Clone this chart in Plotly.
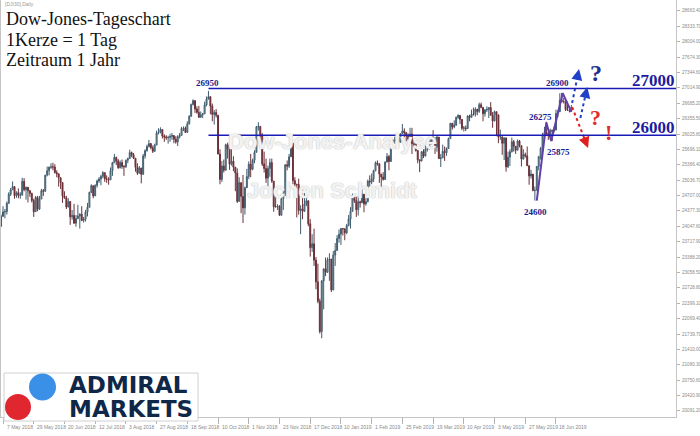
import plotly.graph_objects as go
import pandas as pd

# ---------------- data ----------------
excluded_days = ['2018-12-25', '2019-01-01', '2019-04-19']
dates = [d.strftime('%Y-%m-%d') for d in pd.bdate_range('2018-05-04', '2019-06-28')
         if d.strftime('%Y-%m-%d') not in excluded_days]

opens = [
    # May 2018
    24050,24263,24357,24361,24543,24739,24831,24900,24706,24768,24714,24715,25013,24834,24886,24811,24753,24600,24362,24667,
    # Jun 2018
    24416,24635,24813,24799,25146,25241,25317,25322,25320,25201,25175,25090,24987,24700,24657,24461,24580,24252,24283,24117,24216,
    # Jul 2018
    24271,24307,24175,24200,24356,24456,24776,24919,24700,24924,25019,25064,25120,25199,25064,25058,25044,25241,25414,25527,25451,25306,
    # Aug 2018
    25415,25333,25326,25463,25502,25628,25583,25509,25313,25187,25299,25162,25558,25669,25758,25822,25733,25656,25790,26049,26064,26124,25986,
    # Sep 2018
    25964,25950,25952,25974,25995,25916,25857,25971,25998,26145,26154,26062,26246,26405,26657,26743,26562,26492,26385,26439,
    # Oct 2018
    26458,26651,26774,26828,26627,26447,26487,26430,25599,25053,25340,25250,25798,25706,25379,25444,25317,25191,24583,24985,24689,24443,24875,
    # Nov 2018
    25116,25381,25271,25462,25636,26181,26191,25989,25388,25287,25081,25289,25414,25018,24466,24465,24480,24286,24640,24748,25366,25339,
    # Dec 2018
    25538,25826,25027,24950,24947,24389,24423,24370,24527,24597,24101,23592,23675,23324,22859,22445,21792,22878,23138,23062,
    # Jan 2019
    23327,23346,22686,23433,23531,23787,23879,24001,23996,23910,24065,24207,24370,24706,24600,24404,24575,24553,24737,24528,24579,25014,
    # Feb 2019
    24999,25064,25239,25411,25390,25169,25106,25053,25425,25543,25439,25883,25880,25891,25954,25850,26031,26091,26057,25985,
    # Mar 2019
    25916,26026,25819,25806,25673,25473,25450,25650,25554,25702,25709,25849,25914,25887,25745,25962,25502,25516,25657,25626,25717,
    # Apr 2019
    25929,26258,26179,26218,26385,26425,26341,26150,26157,26143,26412,26384,26452,26450,26559,26511,26656,26597,26462,26543,26554,
    # May 2019
    26593,26430,26307,26505,26438,25965,25967,25828,25942,25324,25532,25648,25862,25764,25680,25877,25776,25490,25586,25560,25347,25127,25169,
    # Jun 2019
    24815,24820,25332,25540,25720,25984,26062,26049,26005,26107,26090,26112,26466,26504,26753,26720,26727,26548,26537,26526,
]
highs = [
    24300,24480,24420,24580,24780,24870,25010,24900,24800,24860,24780,25090,25080,24900,24890,24830,24770,24640,24700,24700,
    24700,24850,24850,25150,25330,25330,25400,25410,25380,25250,25175,25090,24987,24800,24700,24650,24580,24400,24530,24290,24510,
    24330,24480,24250,24400,24550,24790,24950,24919,24950,25050,25100,25150,25230,25199,25140,25100,25310,25430,25600,25540,25490,25460,
    25480,25360,25480,25520,25690,25650,25620,25509,25400,25340,25299,25600,25700,25800,25900,25830,25780,25820,26100,26150,26170,26124,26020,
    26000,25990,26030,26050,26000,25980,26000,26050,26180,26190,26190,26300,26430,26680,26770,26743,26620,26630,26510,26480,
    26720,26830,26951,26830,26680,26540,26560,26430,25700,25450,25480,25820,25840,25750,25700,25550,25317,25290,25100,24985,25150,24900,25280,
    25440,25600,25500,25680,26200,26280,26191,26050,25650,25500,25350,25500,25500,25018,24740,24520,24500,24680,24800,25380,25460,25600,
    25990,25830,25100,24950,25070,24500,24850,24800,24700,24597,24200,23880,24000,23390,23250,22500,22900,23140,23380,23380,
    23470,23350,23520,23690,23860,23980,24010,24010,23996,24100,24290,24460,24750,24720,24680,24700,24600,24850,24737,24650,25050,25140,
    25180,25260,25440,25460,25390,25170,25210,25440,25620,25580,25900,25920,25970,26000,25960,26040,26240,26150,26060,26040,
    26160,26160,25900,25830,25680,25480,25660,25700,25780,25780,25920,25950,26110,25960,26000,25962,25600,25800,25760,25740,25950,
    26260,26260,26320,26400,26450,26430,26341,26200,26210,26430,26440,26550,26590,26600,26560,26700,26700,26600,26560,26620,26600,
    26710,26500,26530,26505,26440,26120,25970,25960,25950,25650,25700,25950,25900,25770,25910,25900,25780,25700,25630,25760,25350,25260,25169,
    24900,25340,25560,25750,26050,26180,26290,26060,26140,26120,26180,26550,26540,26900,26910,26800,26760,26720,26620,26650,
]
lows = [
    24080,24250,24220,24300,24530,24700,24830,24640,24660,24650,24640,24715,24800,24620,24560,24680,24560,24250,24360,24370,
    24400,24630,24700,24790,25120,25140,25280,25250,25180,25100,24900,24850,24550,24640,24420,24460,24080,24190,24100,24040,24200,
    24000,24160,24130,24150,24260,24450,24760,24650,24700,24880,24980,24930,25080,25000,24980,24940,25040,25130,25400,25360,25280,25290,
    25280,25130,25300,25400,25500,25530,25490,25220,25150,25180,24970,25160,25500,25650,25740,25700,25620,25650,25790,26020,26040,25930,25860,
    25900,25820,25860,25900,25830,25820,25770,25930,25990,26090,26050,26050,26230,26400,26640,26480,26460,26370,26380,26370,
    26458,26620,26770,26450,26300,26230,26380,25590,24950,25000,25200,25250,25500,25260,25350,25230,24800,24550,24580,24330,24120,24300,24870,
    25060,25100,25250,25400,25630,26100,25850,25340,25200,24980,24900,25110,24980,24360,24460,24400,24270,24280,24400,24700,25250,25300,
    25538,24950,24850,24240,24300,23880,24200,24360,24480,24050,23400,23500,23200,22700,22400,21750,21650,22270,22980,23060,
    22880,22640,22680,23200,23530,23700,23650,23850,23750,23880,24050,24000,24360,24550,24250,24280,24450,24550,24350,24490,24560,24900,
    24950,25000,25230,25350,24980,24900,25030,25050,25420,25250,25430,25850,25820,25860,25760,25850,26030,25960,25870,25890,
    25910,25600,25750,25650,25400,25210,25440,25510,25550,25650,25700,25800,25850,25600,25650,25490,25320,25510,25450,25560,25710,
    25920,26120,26150,26200,26350,26240,26110,26080,26090,26140,26300,26380,26420,26400,26430,26480,26580,26300,26400,26500,26370,
    26420,26160,26300,25980,25830,25900,25580,25470,25220,25300,25340,25630,25650,25600,25680,25740,25330,25480,25520,25340,24940,25070,24800,
    24600,24820,25250,25480,25700,25980,26000,25900,26000,25875,26060,26110,26390,26500,26700,26680,26520,26520,26490,26500,
]
closes = [
    24263,24357,24361,24543,24739,24831,24900,24706,24768,24714,24715,25013,24834,24886,24811,24753,24600,24362,24667,24416,
    24635,24813,24799,25146,25241,25317,25322,25320,25201,25175,25090,24987,24700,24657,24461,24580,24252,24283,24117,24216,24271,
    24307,24175,24200,24356,24456,24776,24919,24700,24924,25019,25064,25120,25199,25064,25058,25044,25241,25414,25527,25451,25306,25415,
    25333,25326,25463,25502,25628,25583,25509,25313,25187,25299,25162,25558,25669,25758,25822,25733,25656,25790,26049,26064,26124,25986,25964,
    25950,25952,25974,25995,25916,25857,25971,25998,26145,26154,26062,26246,26405,26657,26743,26562,26492,26385,26439,26458,
    26651,26774,26828,26627,26447,26487,26430,25599,25053,25340,25250,25798,25706,25379,25444,25317,25191,24583,24985,24689,24443,24875,25116,
    25381,25271,25462,25636,26181,26191,25989,25388,25287,25081,25289,25414,25018,24466,24465,24480,24286,24640,24748,25366,25339,25538,
    25826,25027,24950,24947,24389,24423,24370,24527,24597,24101,23592,23675,23324,22859,22445,21792,22878,23138,23062,23327,
    23346,22686,23433,23531,23787,23879,24001,23996,23910,24065,24207,24370,24706,24600,24404,24575,24553,24737,24528,24579,25014,24999,
    25064,25239,25411,25390,25169,25106,25053,25425,25543,25439,25883,25880,25891,25954,25850,26031,26091,26057,25985,25916,
    26026,25819,25806,25673,25473,25450,25650,25554,25702,25709,25849,25914,25887,25745,25962,25502,25516,25657,25626,25717,25929,
    26258,26179,26218,26385,26425,26341,26150,26157,26143,26412,26384,26452,26450,26559,26511,26656,26597,26462,26543,26554,26593,
    26430,26307,26505,26438,25965,25967,25828,25942,25324,25532,25648,25862,25764,25680,25877,25776,25490,25586,25560,25347,25127,25169,24815,
    24820,25332,25540,25720,25984,26062,26049,26005,26107,26090,26112,26466,26504,26753,26720,26727,26548,26537,26526,26600,
]

tick_dates = ['2018-05-07', '2018-05-29', '2018-06-20', '2018-07-12', '2018-08-03', '2018-08-27',
              '2018-09-18', '2018-10-10', '2018-11-01', '2018-11-23', '2018-12-17', '2019-01-10',
              '2019-02-01', '2019-02-25', '2019-03-19', '2019-04-10', '2019-05-03', '2019-05-27',
              '2019-06-18']
tick_labels = ['7 May 2018', '29 May 2018', '20 Jun 2018', '12 Jul 2018', '3 Aug 2018', '27 Aug 2018',
               '18 Sep 2018', '10 Oct 2018', '1 Nov 2018', '23 Nov 2018', '17 Dec 2018', '10 Jan 2019',
               '1 Feb 2019', '25 Feb 2019', '19 Mar 2019', '10 Apr 2019', '3 May 2019', '27 May 2019',
               '18 Jun 2019']

y_ticks = [20091.20, 20420.90, 20750.60, 21080.30, 21410.00, 21739.70, 22069.40, 22399.10, 22728.80,
           23058.50, 23388.20, 23717.90, 24047.60, 24377.30, 24707.00, 25036.70, 25366.40, 25696.10,
           26025.80, 26355.50, 26685.20, 27014.90, 27344.60, 27674.30, 28004.00, 28333.70, 28663.40]

# analyst annotations (levels)
hline_start = '2018-10-03'
hline_levels = [27000, 26000]
hline_labels = ['27000', '26000']
zigzag_x = [279, 284, 286.5, 292.5, 297]
zigzag_y = [24600, 26275, 25875, 26900, 26500]

assert len(dates) == len(opens) == len(highs) == len(lows) == len(closes)

idx = list(range(len(dates)))
tick_idx = [dates.index(d) for d in tick_dates]
X0, X1 = -0.04, 351.5
Y0, Y1 = 19962, 28899

# pixel helpers for plot-area paper coords
PL, PR, PT, PB = 1, 676, 0, 417
def fx(px):
    return (px - PL) / (PR - PL)
def fy(py):
    return (PB - py) / (PB - PT)

SERIF = 'Liberation Serif, Times New Roman, serif'
SANS = 'Liberation Sans, Arial, sans-serif'

fig = go.Figure()
fig.add_trace(go.Candlestick(
    x=idx, open=opens, high=highs, low=lows, close=closes, hovertext=dates,
    increasing=dict(line=dict(color='#3e5c6e', width=1), fillcolor='#aeb8c0'),
    decreasing=dict(line=dict(color='#6a3038', width=1), fillcolor='#7c2a33'),
    whiskerwidth=0,
))

# zigzag
fig.add_trace(go.Scatter(x=zigzag_x, y=zigzag_y, mode='lines',
                         line=dict(color='#6040a8', width=2), hoverinfo='skip'))

# dotted arrows
arrows = [
    (297.4, 26690, 301.0, 27420, '#2040c8'),
    (301.7, 26370, 305.3, 27035, '#2040c8'),
    (297.4, 26606, 305.7, 25727, '#e02020'),
]
annotations = []
for (ax0, ay0, ax1, ay1, col) in arrows:
    fig.add_trace(go.Scatter(x=[ax0, ax0 + 0.8 * (ax1 - ax0)], y=[ay0, ay0 + 0.8 * (ay1 - ay0)],
                             mode='lines', line=dict(color=col, width=2, dash='dot'),
                             hoverinfo='skip'))
    annotations.append(dict(x=ax1, y=ay1, ax=ax1 - 0.3 * (ax1 - ax0), ay=ay1 - 0.3 * (ay1 - ay0),
                            xref='x', yref='y', axref='x', ayref='y', text='', showarrow=True,
                            arrowhead=2, arrowsize=1.1, arrowwidth=2, arrowcolor=col))

shapes = []
start_i = dates.index(hline_start)
for lvl in hline_levels:
    shapes.append(dict(type='line', xref='x', yref='y', x0=start_i, x1=X1, y0=lvl, y1=lvl,
                       line=dict(color='#1a1ab8', width=1.5)))

# logo
shapes.append(dict(type='rect', xref='paper', yref='paper', x0=fx(4), x1=fx(198), y0=fy(421), y1=fy(373),
                   line=dict(color='#d0d0d0', width=1), fillcolor='white', layer='above'))
shapes.append(dict(type='circle', xref='paper', yref='paper', x0=fx(29), x1=fx(56), y0=fy(400.5), y1=fy(373.5),
                   line=dict(width=0), fillcolor='#3a8fe6'))
shapes.append(dict(type='circle', xref='paper', yref='paper', x0=fx(5), x1=fx(31), y0=fy(420), y1=fy(394),
                   line=dict(width=0), fillcolor='#e0262f'))

def txt(text, px, py, size, color, family=SERIF, xanchor='left', weight='normal', **kw):
    d = dict(text=text, x=fx(px), y=fy(py), xref='paper', yref='paper', xanchor=xanchor,
             yanchor='middle', showarrow=False,
             font=dict(family=family, size=size, color=color, weight=weight))
    d.update(kw)
    return d

# watermark
for t, py in [('Dow-Jones-Analyse', 141), ('Jochen Schmidt', 190)]:
    annotations.append(txt(t, 332, py, 22, 'rgba(250,250,250,0.9)', family=SANS, xanchor='center',
                           weight='bold'))
    annotations[-1]['font']['shadow'] = '0px 0px 1.2px #b8b8b8, 0px 0px 1px #c8c8c8'

# title texts
annotations.append(txt('[DJI30],Daily', 3, 4, 5, '#999999', family=SANS))
annotations.append(txt('Dow-Jones-Tageschart', 4, 19, 18, '#111111'))
annotations.append(txt('1Kerze = 1 Tag', 4, 40, 18, '#111111'))
annotations.append(txt('Zeitraum 1 Jahr', 4, 60, 18, '#111111'))

# level labels
annotations.append(txt(hline_labels[0], 653, 80, 17, '#1c1ca0', xanchor='center', weight='bold'))
annotations.append(txt(hline_labels[1], 653, 128, 17, '#1c1ca0', xanchor='center', weight='bold'))
for t, px, py in [('26950', 207, 83), ('26900', 557, 83), ('26275', 540, 117),
                  ('25875', 558, 152), ('24600', 535, 212)]:
    annotations.append(txt(t, px, py, 9, '#1c1c8c', xanchor='center', weight='bold'))

annotations.append(txt('?', 596, 73, 24, '#1f2e94', xanchor='center', weight='bold'))
annotations.append(txt('?', 595, 117, 22, '#e32b2b', xanchor='center', weight='bold'))
annotations.append(txt('!', 608, 132, 22, '#e32b2b', xanchor='center', weight='bold'))

# logo text
annotations.append(txt('ADMIRAL', 67, 385, 23, '#0f2849', family='DejaVu Sans', weight='bold'))
annotations.append(txt('MARKETS', 67, 409, 23, '#0f2849', family='DejaVu Sans', weight='bold'))

# x tick labels (left-aligned at tick)
for ti, lab in zip(tick_idx, tick_labels):
    annotations.append(dict(text=lab, x=ti, y=fy(427), xref='x', yref='paper', xanchor='left',
                            yanchor='middle', xshift=1.5, showarrow=False,
                            font=dict(family=SANS, size=5, color='#8a8a8a')))

# y tick labels (left-aligned just right of the tick marks)
for v in y_ticks:
    annotations.append(dict(text=f'{v:.2f}', x=fx(680), y=v, xref='paper', yref='y', xanchor='left',
                            yanchor='middle', showarrow=False,
                            font=dict(family=SANS, size=4.6, color='#8a8a8a')))

fig.update_layout(
    template='none',
    width=700, height=436,
    margin=dict(l=PL, r=700 - PR, t=PT, b=436 - PB),
    paper_bgcolor='white', plot_bgcolor='white',
    showlegend=False,
    shapes=shapes,
    annotations=annotations,
    xaxis=dict(range=[X0, X1], showgrid=False, zeroline=False, showline=True, mirror=True,
               linecolor='#c4c4c4', linewidth=1, ticks='outside', ticklen=6, tickcolor='#b4b4b4',
               tickvals=tick_idx, showticklabels=False, rangeslider=dict(visible=False),
               automargin=False),
    yaxis=dict(range=[Y0, Y1], side='right', showgrid=False, zeroline=False, showline=True,
               mirror=True, linecolor='#c4c4c4', linewidth=1, ticks='outside', ticklen=3,
               tickcolor='#b4b4b4', tickvals=y_ticks, showticklabels=False, automargin=False),
)

fig.write_html('out.html', config={'displayModeBar': False},
               post_script="document.body.style.margin='0';document.body.style.padding='0';")
